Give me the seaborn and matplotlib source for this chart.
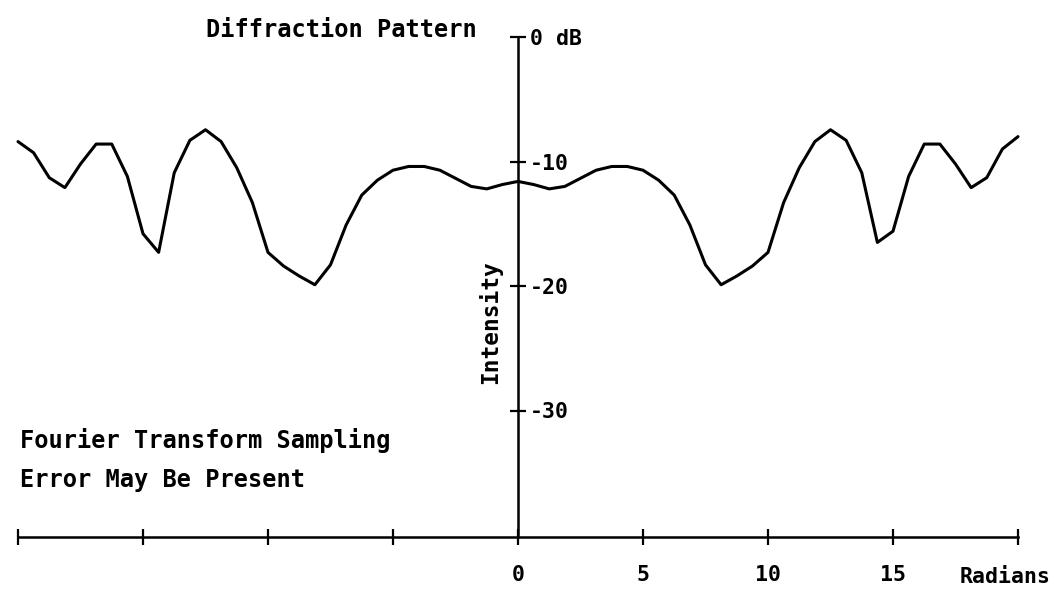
import numpy as np
import pandas as pd
import matplotlib
matplotlib.use("Agg")
import matplotlib.pyplot as plt
import seaborn as sns

# Sample positions (radians) and intensity (dB)
radians = [-20 + 0.625 * i for i in range(65)]
intensity_db = [
    -8.4, -9.3, -11.3, -12.1, -10.2, -8.6, -8.6, -11.2, -15.8, -17.3,
    -10.9, -8.3, -7.45, -8.4, -10.5, -13.3, -17.3, -18.4, -19.2, -19.9,
    -18.3, -15.1, -12.7, -11.5, -10.7, -10.4, -10.4, -10.7, -11.35, -12.0,
    -12.2, -11.85, -11.6,
    -11.85, -12.2, -12.0, -11.35, -10.7, -10.4, -10.4, -10.7, -11.5, -12.7,
    -15.1, -18.3, -19.9, -19.2, -18.4, -17.3, -13.3, -10.5, -8.4, -7.45,
    -8.3, -10.9, -16.5, -15.6, -11.2, -8.6, -8.6, -10.2, -12.1, -11.3,
    -9.0, -8.0,
]
x_ticks = [-20, -15, -10, -5, 0, 5, 10, 15, 20]
x_tick_labels = ["", "", "", "", "0", "5", "10", "15", ""]
y_ticks = [0, -10, -20, -30]
y_tick_labels = ["0 dB", "-10", "-20", "-30"]

df = pd.DataFrame({"Radians": radians, "Intensity": intensity_db})

sns.set_style("white")
plt.rcParams["font.family"] = ["DejaVu Sans Mono", "DejaVu Sans"]

fig = plt.figure(figsize=(10.62, 5.93), dpi=100)
ax = fig.add_axes([0, 0, 1, 1])

sns.lineplot(data=df, x="Radians", y="Intensity", ax=ax, color="black",
             linewidth=2.2, estimator=None, sort=False)

px_per_rad = 25.0
px_per_db = 12.45
x0_px = 18
ax.set_xlim(-20 - x0_px / px_per_rad, 20 + (1062 - 1018) / px_per_rad)
ax.set_ylim(-(593 - 37) / px_per_db, 37 / px_per_db)
axis_y = -(537 - 37) / px_per_db

for s in ["top", "left"]:
    ax.spines[s].set_visible(False)
ax.spines["right"].set_position(("data", 0))
ax.spines["right"].set_bounds(axis_y, 0)
ax.spines["bottom"].set_position(("data", axis_y))
ax.spines["bottom"].set_bounds(-20, 20)
for s in ["right", "bottom"]:
    ax.spines[s].set_color("black")
    ax.spines[s].set_linewidth(1.8)

ax.yaxis.set_ticks_position("right")
ax.xaxis.set_ticks_position("bottom")
ax.set_yticks(y_ticks)
ax.set_yticklabels(y_tick_labels)
ax.set_xticks(x_ticks)
ax.set_xticklabels(x_tick_labels)
ax.tick_params(axis="both", direction="inout", length=11, width=1.6,
               color="black", labelsize=15.5, labelcolor="black",
               bottom=True, right=True, left=False, top=False,
               labelright=True, labelleft=False)
ax.tick_params(axis="x", pad=15)
ax.tick_params(axis="y", pad=3)
for lab in ax.get_xticklabels() + ax.get_yticklabels():
    lab.set_fontweight("bold")
ax.set_xlabel("")
ax.set_ylabel("")

def px2data(xp, yp):
    return (xp - 517) / px_per_rad, -(yp - 37) / px_per_db

tkw = dict(fontsize=17, fontweight="bold", color="black")
ax.text(*px2data(205, 30), "Diffraction Pattern", ha="left", va="center", **tkw)
ax.text(*px2data(19, 440), "Fourier Transform Sampling", ha="left", va="center", **tkw)
ax.text(*px2data(19, 480), "Error May Be Present", ha="left", va="center", **tkw)
ax.text(*px2data(489, 322), "Intensity", ha="center", va="center", rotation=90,
        fontsize=16.5, fontweight="bold", color="black")
ax.text(*px2data(1004, 577), "Radians", ha="center", va="center",
        fontsize=15.5, fontweight="bold", color="black")

fig.savefig("out.png", dpi=100, facecolor="white")
